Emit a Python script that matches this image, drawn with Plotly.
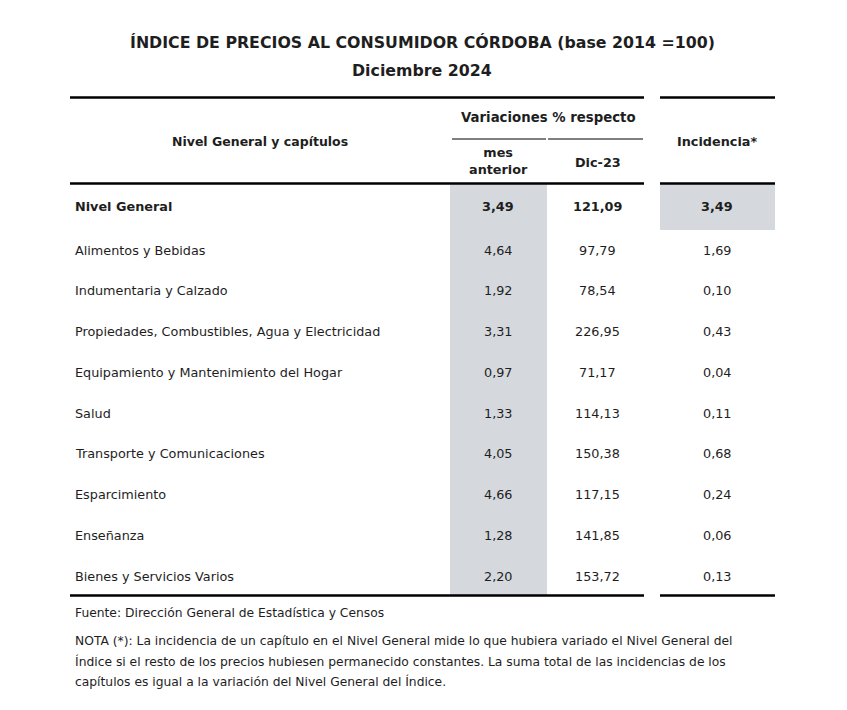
import plotly.graph_objects as go

title_1 = "ÍNDICE DE PRECIOS AL CONSUMIDOR CÓRDOBA (base 2014 =100)"
title_2 = "Diciembre 2024"

capitulos = [
    "Nivel General",
    "Alimentos y Bebidas",
    "Indumentaria y Calzado",
    "Propiedades, Combustibles, Agua y Electricidad",
    "Equipamiento y Mantenimiento del Hogar",
    "Salud",
    "Transporte y Comunicaciones",
    "Esparcimiento",
    "Enseñanza",
    "Bienes y Servicios Varios",
]
var_mes_anterior = [3.49, 4.64, 1.92, 3.31, 0.97, 1.33, 4.05, 4.66, 1.28, 2.20]
var_dic23 = [121.09, 97.79, 78.54, 226.95, 71.17, 114.13, 150.38, 117.15, 141.85, 153.72]
incidencia = [3.49, 1.69, 0.10, 0.43, 0.04, 0.11, 0.68, 0.24, 0.06, 0.13]

fuente = "Fuente: Dirección General de Estadística y Censos"
nota = [
    "NOTA (*): La incidencia de un capítulo en el Nivel General mide lo que hubiera variado el Nivel General del",
    "Índice si el resto de los precios hubiesen permanecido constantes. La suma total de las incidencias de los",
    "capítulos es igual a la variación del Nivel General del Índice.",
]

FONT = "DejaVu Sans"
TXT = "#1e1e1e"
SHADE = "#d5d8dd"


def fmt(v):
    return f"{v:,.2f}".replace(",", "X").replace(".", ",").replace("X", ".")


# page geometry: the figure sits 8px inside the page (body margin),
# so the axes are ranged to match page pixel coordinates.
W, H = 847, 710
OFF = 8
x_left, x_mid_end = 70, 644
x_inc0, x_inc1 = 660, 775
x_col1 = (450, 547)
x_col2 = (548, 643)
y_top, y_head, y_bottom = 97.5, 183.5, 595.5
row_y = [206] + [250 + 40.75 * i for i in range(len(capitulos) - 1)]

fig = go.Figure()
fig.add_trace(go.Scatter(x=[OFF, W + OFF], y=[OFF, H + OFF], mode="markers", marker=dict(opacity=0),
                         hoverinfo="skip", showlegend=False))

shapes = []
shapes.append(dict(type="rect", xref="x", yref="y", x0=x_col1[0], x1=x_col1[1], y0=y_head, y1=y_bottom,
                   fillcolor=SHADE, line=dict(width=0), layer="below"))
shapes.append(dict(type="rect", xref="x", yref="y", x0=x_inc0, x1=x_inc1, y0=y_head, y1=230,
                   fillcolor=SHADE, line=dict(width=0), layer="below"))
for yy in (y_top, y_head, y_bottom):
    shapes.append(dict(type="line", xref="x", yref="y", x0=x_left, x1=x_mid_end, y0=yy, y1=yy, line=dict(color="#000", width=2.5)))
    shapes.append(dict(type="line", xref="x", yref="y", x0=x_inc0, x1=x_inc1, y0=yy, y1=yy, line=dict(color="#000", width=2.5)))
shapes.append(dict(type="line", xref="x", yref="y", x0=452, x1=546, y0=139, y1=139, line=dict(color="#000", width=1)))
shapes.append(dict(type="line", xref="x", yref="y", x0=548, x1=643, y0=139, y1=139, line=dict(color="#000", width=1)))

ann = []


def t(x, y, s, size=12.8, bold=False, xanchor="center"):
    ann.append(dict(x=x, y=y, xref="x", yref="y", text=(f"<b>{s}</b>" if bold else s), showarrow=False,
                    xanchor=xanchor, yanchor="middle", font=dict(family=FONT, size=size, color=TXT)))


t(422, 42, title_1, size=15.8, bold=True)
t(422, 70, title_2, size=15.8, bold=True)

t(260, 141, "Nivel General y capítulos", size=12.5, bold=True)
t(548, 117, "Variaciones % respecto", size=13.3, bold=True)
t(498, 161, "mes<br>anterior", size=12.8, bold=True)
t(597.5, 162, "Dic-23", size=12.8, bold=True)
t(717, 141, "Incidencia*", size=12.8, bold=True)

for i, name in enumerate(capitulos):
    b = i == 0
    t(73, row_y[i], name, size=12.8, bold=b, xanchor="left")
    t(498, row_y[i], fmt(var_mes_anterior[i]), size=12.8, bold=b)
    t(597, row_y[i], fmt(var_dic23[i]), size=12.8, bold=b)
    t(717, row_y[i], fmt(incidencia[i]), size=12.8, bold=b)

t(73, 613, fuente, size=12.3, xanchor="left")
for k, line in enumerate(nota):
    t(73, 641 + 20 * k, line, size=12.3, xanchor="left")

fig.update_layout(
    width=W, height=H, margin=dict(l=0, r=0, t=0, b=0),
    paper_bgcolor="white", plot_bgcolor="white",
    xaxis=dict(range=[OFF, W + OFF], visible=False, fixedrange=True),
    yaxis=dict(range=[H + OFF, OFF], visible=False, fixedrange=True),
    shapes=shapes, annotations=ann, showlegend=False,
)
fig.write_html("out.html")
